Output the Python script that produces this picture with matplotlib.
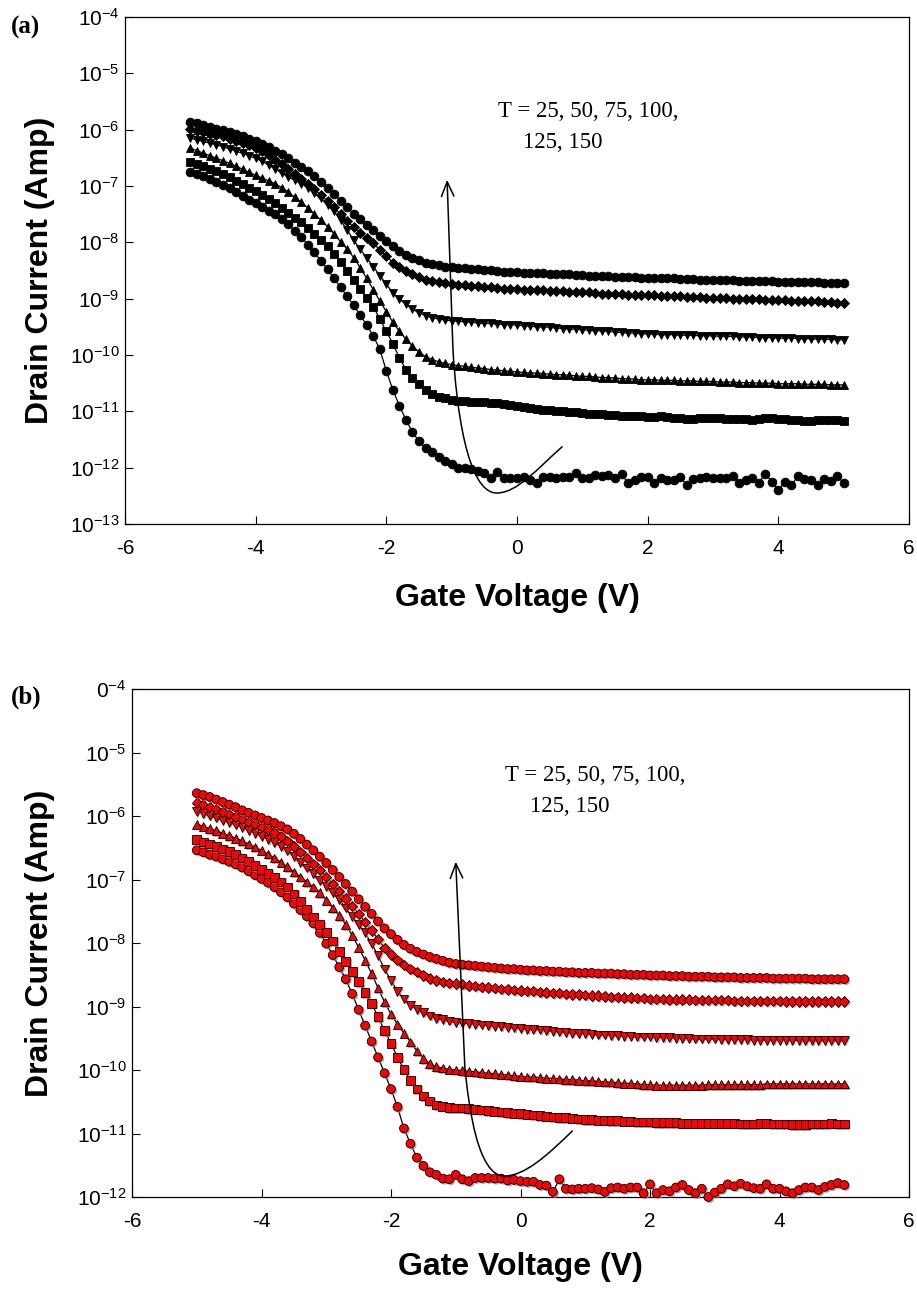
import numpy as np
import matplotlib
matplotlib.use('Agg')
import matplotlib.pyplot as plt
import matplotlib.patheffects as pe
from matplotlib.path import Path
from matplotlib.patches import FancyArrowPatch

plt.rcParams['font.family'] = ['Liberation Sans', 'DejaVu Sans']
plt.rcParams['mathtext.default'] = 'regular'
plt.rcParams['axes.unicode_minus'] = False

# gate voltage sweep, -5 V .. 5 V in 0.1 V steps
gateVoltage = np.round(np.linspace(-5.0, 5.0, 101), 1)

temperatures = [25, 50, 75, 100, 125, 150]
markerShapes = ['o', 's', '^', 'v', 'D', 'o']

# ---- panel (a): log10 of drain current (A) ----
a_T25 = [-6.75, -6.79, -6.83, -6.88, -6.93, -6.98, -7.03, -7.10, -7.17, -7.24,
         -7.31, -7.38, -7.44, -7.50, -7.58, -7.68, -7.79, -7.91, -8.04, -8.18,
         -8.33, -8.48, -8.64, -8.80, -8.96, -9.12, -9.29, -9.47, -9.66, -9.90,
         -10.28, -10.62, -10.90, -11.15, -11.37, -11.53, -11.65, -11.73, -11.81, -11.88,
         -11.94, -12.00, -12.01, -12.03, -12.06, -12.10, -12.19, -12.08, -12.19, -12.19,
         -12.19, -12.16, -12.22, -12.27, -12.16, -12.16, -12.19, -12.17, -12.16, -12.10,
         -12.19, -12.19, -12.13, -12.15, -12.13, -12.19, -12.12, -12.27, -12.22, -12.16,
         -12.17, -12.27, -12.19, -12.22, -12.22, -12.17, -12.31, -12.20, -12.19, -12.16,
         -12.19, -12.19, -12.19, -12.15, -12.27, -12.22, -12.18, -12.27, -12.11, -12.25,
         -12.40, -12.25, -12.31, -12.15, -12.21, -12.22, -12.31, -12.21, -12.23, -12.15,
         -12.27]
a_T50 = [-6.57, -6.61, -6.65, -6.70, -6.74, -6.79, -6.84, -6.91, -6.97, -7.03,
         -7.09, -7.16, -7.23, -7.31, -7.39, -7.48, -7.56, -7.64, -7.74, -7.85,
         -7.96, -8.07, -8.20, -8.35, -8.51, -8.67, -8.83, -8.98, -9.14, -9.36,
         -9.58, -9.80, -10.05, -10.26, -10.40, -10.52, -10.62, -10.69, -10.74, -10.77,
         -10.79, -10.81, -10.82, -10.83, -10.84, -10.84, -10.85, -10.86, -10.87, -10.88,
         -10.90, -10.92, -10.94, -10.95, -10.97, -10.98, -10.99, -11.00, -11.01, -11.02,
         -11.03, -11.04, -11.04, -11.05, -11.06, -11.07, -11.08, -11.08, -11.09, -11.09,
         -11.10, -11.10, -11.09, -11.10, -11.11, -11.12, -11.13, -11.13, -11.12, -11.12,
         -11.11, -11.12, -11.13, -11.13, -11.14, -11.14, -11.15, -11.14, -11.12, -11.12,
         -11.13, -11.14, -11.15, -11.16, -11.17, -11.17, -11.16, -11.16, -11.16, -11.16,
         -11.17]
a_T75 = [-6.33, -6.37, -6.42, -6.46, -6.51, -6.55, -6.60, -6.65, -6.70, -6.76,
         -6.81, -6.86, -6.91, -6.96, -7.03, -7.11, -7.20, -7.29, -7.39, -7.50,
         -7.61, -7.72, -7.85, -7.99, -8.12, -8.27, -8.45, -8.64, -8.84, -9.04,
         -9.23, -9.42, -9.58, -9.72, -9.84, -9.95, -10.03, -10.08, -10.12, -10.15,
         -10.17, -10.19, -10.20, -10.22, -10.23, -10.24, -10.26, -10.27, -10.28, -10.29,
         -10.30, -10.31, -10.32, -10.32, -10.33, -10.34, -10.35, -10.35, -10.36, -10.37,
         -10.38, -10.38, -10.39, -10.40, -10.40, -10.41, -10.42, -10.42, -10.43, -10.44,
         -10.44, -10.44, -10.45, -10.45, -10.45, -10.46, -10.46, -10.46, -10.47, -10.47,
         -10.47, -10.48, -10.48, -10.48, -10.49, -10.49, -10.49, -10.50, -10.50, -10.50,
         -10.51, -10.51, -10.51, -10.51, -10.52, -10.52, -10.52, -10.52, -10.53, -10.53,
         -10.53]
a_T100 = [-6.15, -6.18, -6.21, -6.24, -6.27, -6.30, -6.34, -6.38, -6.42, -6.46,
          -6.51, -6.56, -6.63, -6.70, -6.77, -6.84, -6.90, -6.96, -7.03, -7.12,
          -7.22, -7.33, -7.45, -7.61, -7.78, -7.96, -8.12, -8.28, -8.43, -8.59,
          -8.74, -8.90, -9.01, -9.10, -9.19, -9.25, -9.30, -9.34, -9.36, -9.38,
          -9.39, -9.40, -9.41, -9.42, -9.43, -9.44, -9.44, -9.45, -9.46, -9.46,
          -9.47, -9.48, -9.49, -9.50, -9.50, -9.51, -9.52, -9.53, -9.54, -9.54,
          -9.55, -9.56, -9.57, -9.57, -9.58, -9.59, -9.60, -9.61, -9.61, -9.62,
          -9.63, -9.63, -9.64, -9.64, -9.64, -9.65, -9.65, -9.65, -9.66, -9.66,
          -9.66, -9.67, -9.67, -9.67, -9.68, -9.68, -9.68, -9.69, -9.69, -9.69,
          -9.70, -9.70, -9.70, -9.71, -9.71, -9.71, -9.72, -9.72, -9.72, -9.73,
          -9.73]
a_T125 = [-5.99, -6.02, -6.04, -6.07, -6.09, -6.12, -6.16, -6.20, -6.24, -6.28,
          -6.33, -6.38, -6.45, -6.53, -6.61, -6.70, -6.79, -6.87, -6.96, -7.06,
          -7.16, -7.27, -7.38, -7.50, -7.62, -7.73, -7.83, -7.93, -8.02, -8.13,
          -8.24, -8.36, -8.44, -8.51, -8.57, -8.62, -8.66, -8.69, -8.71, -8.73,
          -8.74, -8.75, -8.76, -8.77, -8.78, -8.79, -8.80, -8.81, -8.82, -8.82,
          -8.83, -8.84, -8.84, -8.85, -8.85, -8.86, -8.87, -8.87, -8.88, -8.88,
          -8.89, -8.89, -8.90, -8.91, -8.91, -8.92, -8.92, -8.93, -8.93, -8.94,
          -8.94, -8.94, -8.95, -8.95, -8.96, -8.96, -8.97, -8.97, -8.97, -8.98,
          -8.98, -8.99, -8.99, -9.00, -9.00, -9.01, -9.01, -9.01, -9.02, -9.02,
          -9.03, -9.03, -9.04, -9.04, -9.05, -9.05, -9.05, -9.06, -9.06, -9.07,
          -9.07]
a_T150 = [-5.86, -5.89, -5.92, -5.95, -5.98, -6.01, -6.05, -6.08, -6.12, -6.16,
          -6.20, -6.25, -6.30, -6.37, -6.44, -6.51, -6.59, -6.66, -6.74, -6.83,
          -6.93, -7.03, -7.14, -7.26, -7.38, -7.49, -7.59, -7.69, -7.78, -7.88,
          -7.98, -8.07, -8.15, -8.22, -8.28, -8.32, -8.36, -8.39, -8.41, -8.43,
          -8.44, -8.45, -8.46, -8.47, -8.48, -8.49, -8.50, -8.51, -8.52, -8.52,
          -8.53, -8.54, -8.54, -8.55, -8.55, -8.56, -8.56, -8.57, -8.57, -8.58,
          -8.58, -8.59, -8.59, -8.60, -8.60, -8.61, -8.61, -8.62, -8.62, -8.63,
          -8.63, -8.63, -8.64, -8.64, -8.64, -8.65, -8.65, -8.65, -8.66, -8.66,
          -8.66, -8.67, -8.67, -8.67, -8.68, -8.68, -8.68, -8.69, -8.69, -8.69,
          -8.70, -8.70, -8.70, -8.71, -8.71, -8.71, -8.71, -8.72, -8.72, -8.72,
          -8.72]

# ---- panel (b): log10 of drain current (A) ----
b_T25 = [-6.54, -6.57, -6.61, -6.64, -6.68, -6.72, -6.76, -6.81, -6.87, -6.93,
         -6.99, -7.05, -7.12, -7.20, -7.28, -7.38, -7.48, -7.58, -7.69, -7.84,
         -8.01, -8.19, -8.38, -8.57, -8.80, -9.05, -9.30, -9.55, -9.80, -10.05,
         -10.30, -10.58, -10.92, -11.16, -11.38, -11.51, -11.61, -11.65, -11.71, -11.72,
         -11.65, -11.72, -11.75, -11.70, -11.70, -11.70, -11.71, -11.71, -11.74, -11.73,
         -11.75, -11.76, -11.76, -11.81, -11.82, -11.92, -11.72, -11.87, -11.88, -11.87,
         -11.87, -11.86, -11.88, -11.92, -11.86, -11.85, -11.87, -11.85, -11.85, -11.94,
         -11.80, -11.94, -11.89, -11.91, -11.85, -11.81, -11.89, -11.94, -11.87, -12.00,
         -11.93, -11.87, -11.80, -11.83, -11.79, -11.83, -11.86, -11.87, -11.80, -11.87,
         -11.87, -11.91, -11.94, -11.89, -11.85, -11.85, -11.89, -11.84, -11.81, -11.78,
         -11.81]
b_T50 = [-6.37, -6.41, -6.44, -6.48, -6.52, -6.56, -6.61, -6.66, -6.72, -6.78,
         -6.84, -6.90, -6.97, -7.04, -7.12, -7.23, -7.35, -7.47, -7.59, -7.71,
         -7.83, -7.97, -8.13, -8.29, -8.45, -8.61, -8.78, -8.95, -9.16, -9.38,
         -9.58, -9.80, -9.99, -10.16, -10.30, -10.41, -10.49, -10.55, -10.57, -10.59,
         -10.60, -10.60, -10.61, -10.62, -10.63, -10.64, -10.65, -10.66, -10.67, -10.68,
         -10.69, -10.70, -10.71, -10.72, -10.73, -10.74, -10.75, -10.75, -10.76, -10.77,
         -10.78, -10.78, -10.79, -10.79, -10.80, -10.80, -10.81, -10.81, -10.82, -10.82,
         -10.82, -10.83, -10.83, -10.83, -10.83, -10.84, -10.84, -10.84, -10.84, -10.84,
         -10.84, -10.84, -10.84, -10.84, -10.85, -10.85, -10.85, -10.84, -10.84, -10.85,
         -10.85, -10.85, -10.86, -10.86, -10.86, -10.85, -10.85, -10.85, -10.84, -10.85,
         -10.85]
b_T75 = [-6.13, -6.16, -6.20, -6.23, -6.27, -6.31, -6.35, -6.39, -6.44, -6.49,
         -6.54, -6.60, -6.66, -6.73, -6.80, -6.88, -6.96, -7.04, -7.12, -7.21,
         -7.33, -7.45, -7.57, -7.71, -7.88, -8.07, -8.27, -8.48, -8.71, -8.93,
         -9.12, -9.28, -9.42, -9.56, -9.70, -9.82, -9.90, -9.95, -9.97, -9.99,
         -10.00, -10.01, -10.02, -10.03, -10.04, -10.05, -10.06, -10.07, -10.08, -10.09,
         -10.10, -10.11, -10.11, -10.12, -10.13, -10.13, -10.14, -10.15, -10.15, -10.16,
         -10.17, -10.17, -10.18, -10.19, -10.19, -10.20, -10.21, -10.21, -10.22, -10.23,
         -10.23, -10.24, -10.24, -10.24, -10.24, -10.24, -10.24, -10.24, -10.24, -10.23,
         -10.23, -10.23, -10.23, -10.23, -10.23, -10.23, -10.23, -10.23, -10.22, -10.22,
         -10.22, -10.22, -10.22, -10.22, -10.22, -10.22, -10.22, -10.22, -10.22, -10.22,
         -10.22]
b_T100 = [-5.93, -5.96, -6.00, -6.03, -6.07, -6.10, -6.14, -6.18, -6.23, -6.27,
          -6.32, -6.37, -6.42, -6.48, -6.55, -6.64, -6.73, -6.82, -6.91, -7.01,
          -7.11, -7.21, -7.32, -7.45, -7.58, -7.71, -7.84, -8.01, -8.20, -8.41,
          -8.59, -8.76, -8.88, -8.98, -9.05, -9.10, -9.15, -9.19, -9.21, -9.23,
          -9.25, -9.26, -9.27, -9.28, -9.29, -9.30, -9.31, -9.32, -9.33, -9.34,
          -9.35, -9.36, -9.36, -9.37, -9.38, -9.39, -9.40, -9.41, -9.42, -9.43,
          -9.43, -9.44, -9.45, -9.45, -9.46, -9.46, -9.47, -9.47, -9.48, -9.48,
          -9.48, -9.49, -9.49, -9.49, -9.50, -9.50, -9.50, -9.51, -9.51, -9.51,
          -9.51, -9.52, -9.52, -9.52, -9.52, -9.52, -9.53, -9.53, -9.53, -9.53,
          -9.53, -9.53, -9.53, -9.54, -9.54, -9.54, -9.54, -9.54, -9.54, -9.54,
          -9.54]
b_T125 = [-5.79, -5.82, -5.86, -5.89, -5.93, -5.97, -6.01, -6.05, -6.09, -6.13,
          -6.17, -6.21, -6.26, -6.32, -6.39, -6.48, -6.57, -6.66, -6.76, -6.85,
          -6.96, -7.07, -7.18, -7.30, -7.42, -7.54, -7.67, -7.80, -7.94, -8.08,
          -8.18, -8.27, -8.35, -8.41, -8.46, -8.51, -8.56, -8.59, -8.61, -8.63,
          -8.64, -8.65, -8.67, -8.68, -8.69, -8.70, -8.71, -8.72, -8.73, -8.74,
          -8.75, -8.76, -8.76, -8.77, -8.78, -8.79, -8.79, -8.80, -8.81, -8.81,
          -8.82, -8.83, -8.83, -8.84, -8.85, -8.85, -8.86, -8.86, -8.87, -8.87,
          -8.88, -8.88, -8.88, -8.89, -8.89, -8.89, -8.89, -8.90, -8.90, -8.90,
          -8.90, -8.90, -8.90, -8.91, -8.91, -8.91, -8.91, -8.91, -8.91, -8.91,
          -8.91, -8.92, -8.92, -8.92, -8.92, -8.92, -8.92, -8.92, -8.92, -8.92,
          -8.92]
b_T150 = [-5.64, -5.67, -5.70, -5.74, -5.78, -5.82, -5.86, -5.91, -5.95, -5.99,
          -6.03, -6.07, -6.11, -6.16, -6.21, -6.28, -6.36, -6.45, -6.54, -6.64,
          -6.74, -6.85, -6.96, -7.07, -7.19, -7.31, -7.43, -7.54, -7.66, -7.77,
          -7.86, -7.95, -8.03, -8.09, -8.14, -8.18, -8.22, -8.25, -8.28, -8.31,
          -8.33, -8.34, -8.35, -8.36, -8.37, -8.38, -8.39, -8.40, -8.41, -8.41,
          -8.42, -8.43, -8.43, -8.44, -8.44, -8.45, -8.45, -8.46, -8.46, -8.47,
          -8.47, -8.47, -8.48, -8.48, -8.48, -8.49, -8.49, -8.50, -8.50, -8.50,
          -8.51, -8.51, -8.51, -8.52, -8.52, -8.52, -8.53, -8.53, -8.53, -8.53,
          -8.54, -8.54, -8.54, -8.54, -8.55, -8.55, -8.55, -8.55, -8.55, -8.56,
          -8.56, -8.56, -8.56, -8.56, -8.56, -8.57, -8.57, -8.57, -8.57, -8.57,
          -8.57]

xTicks = [-6, -4, -2, 0, 2, 4, 6]
xTickLabels = ['-6', '-4', '-2', '0', '2', '4', '6']
a_decades = [-4, -5, -6, -7, -8, -9, -10, -11, -12, -13]
a_yTickLabels = ['$10^{%d}$' % d for d in a_decades]
b_decades = [-4, -5, -6, -7, -8, -9, -10, -11, -12]
b_yTickLabels = ['$0^{-4}$'] + ['$10^{%d}$' % d for d in b_decades[1:]]

annotLine1 = 'T = 25, 50, 75, 100,'
annotLine2 = '125, 150'

W, H = 917, 1289
fig = plt.figure(figsize=(W / 100, H / 100), dpi=100)
axA = fig.add_axes([125 / W, 1 - 524 / H, 784 / W, 507 / H])
axB = fig.add_axes([132 / W, 1 - 1197 / H, 777 / W, 508 / H])


def drawCurves(ax, curves, face, shadow):
    for logI, m in zip(curves, markerShapes):
        current = 10.0 ** np.array(logI)
        ax.plot(gateVoltage, current, '-', color='black', lw=0.9, zorder=2)
        ms = 5.3 if m == 'D' else 6.3
        pts, = ax.plot(gateVoltage, current, ls='none', marker=m, ms=ms, mfc=face,
                       mec='black', mew=0.6, zorder=3, clip_on=False)
        if shadow:
            pts.set_path_effects([pe.SimplePatchShadow(offset=(1.2, -1.2), shadow_rgbFace='#8a8a8a', alpha=0.7),
                                  pe.Normal()])


def styleAxes(ax, decades, yLabels, xlabelY, ylabelX):
    ax.set_yscale('log')
    ax.set_xlim(-6, 6)
    ax.set_ylim(10.0 ** decades[-1], 10.0 ** decades[0])
    ax.set_xticks(xTicks)
    ax.set_xticklabels(xTickLabels)
    ax.set_yticks([10.0 ** d for d in decades])
    ax.set_yticklabels(yLabels)
    ax.minorticks_off()
    ax.tick_params(axis='both', direction='in', length=6, width=0.8, labelsize=15)
    ax.tick_params(axis='x', pad=11)
    ax.tick_params(axis='y', pad=4)
    for s in ax.spines.values():
        s.set_linewidth(0.9)
    ax.set_xlabel('Gate Voltage (V)', fontsize=23, fontweight='bold')
    ax.set_ylabel('Drain Current (Amp)', fontsize=23, fontweight='bold')
    ax.xaxis.set_label_coords(0.5, xlabelY)
    ax.xaxis.label.set_va('center')
    ax.yaxis.set_label_coords(ylabelX, 0.5)
    ax.yaxis.label.set_va('center')


def curvedArrow(ax, pts):
    verts = [(x, 10.0 ** ly) for x, ly in pts]
    codes = [Path.MOVETO] + [Path.CURVE4] * 6 + [Path.LINETO]
    arrow = FancyArrowPatch(path=Path(verts, codes), arrowstyle='->,head_length=0.7,head_width=0.3',
                            mutation_scale=15, lw=1.1, color='black', transform=ax.transData, zorder=4)
    ax.add_patch(arrow)


drawCurves(axA, [a_T25, a_T50, a_T75, a_T100, a_T125, a_T150], 'black', False)
drawCurves(axB, [b_T25, b_T50, b_T75, b_T100, b_T125, b_T150], 'red', True)

styleAxes(axA, a_decades, a_yTickLabels, -74 / 507, -85 / 784)
styleAxes(axB, b_decades, b_yTickLabels, -70 / 508, -92 / 777)

# arrow paths: (gate voltage, log10 current)
curvedArrow(axA, [(0.69, -11.63), (0.31, -12.02), (0.0, -12.45), (-0.31, -12.45),
                  (-0.77, -12.45), (-0.93, -10.89), (-0.98, -9.91), (-1.07, -6.89)])
curvedArrow(axB, [(0.80, -10.96), (0.41, -11.35), (0.06, -11.67), (-0.25, -11.67),
                  (-0.66, -11.67), (-0.80, -10.58), (-0.86, -9.95), (-1.00, -6.72)])

serif = ['Liberation Serif', 'DejaVu Serif']
axA.text(-0.29, 10 ** -5.77, annotLine1, family=serif, fontsize=16.5, va='baseline')
axA.text(0.09, 10 ** -6.33, annotLine2, family=serif, fontsize=16.5, va='baseline')
axB.text(-0.24, 10 ** -5.45, annotLine1, family=serif, fontsize=16.5, va='baseline')
axB.text(0.15, 10 ** -5.94, annotLine2, family=serif, fontsize=16.5, va='baseline')

fig.text(11 / W, 1 - 27 / H, '(a)', family=serif, fontsize=18, fontweight='bold', va='center')
fig.text(11 / W, 1 - 697 / H, '(b)', family=serif, fontsize=18, fontweight='bold', va='center')

fig.savefig('out.png', dpi=100, facecolor='white')
